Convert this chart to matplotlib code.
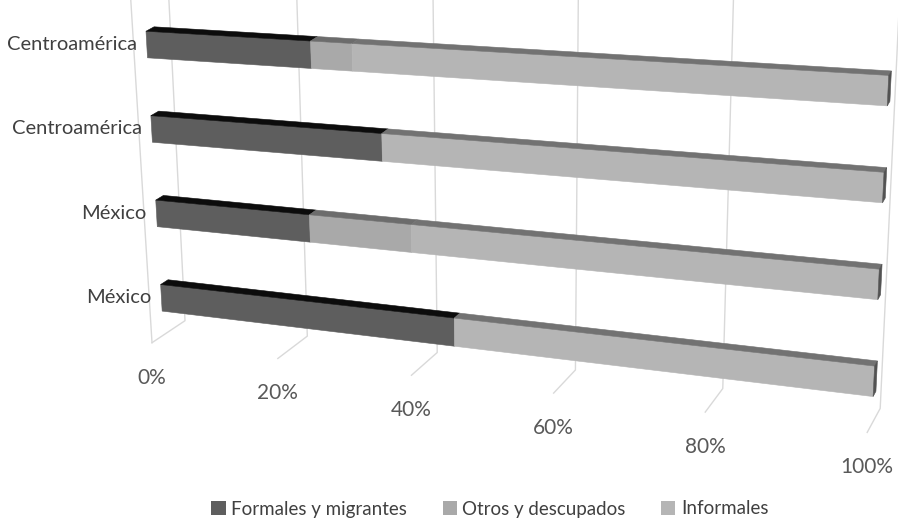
import matplotlib.pyplot as plt
import numpy as np
from matplotlib.patches import Polygon, Patch

# categories from bottom to top, shares in %
categories = ['México', 'México', 'Centroamérica', 'Centroamérica']
formales = [45, 24, 35, 25]
otros = [0, 15, 0, 6]
informales = [55, 61, 65, 69]
series_names = ['Formales y migrantes', 'Otros y descupados', 'Informales']
ticks = [0, 20, 40, 60, 80, 100]

front_colors = ['#5e5e5e', '#a9a9a9', '#b5b5b5']
top_colors = ['#0c0c0c', '#6c6c6c', '#727272']
end_color = '#525252'
grid_color = '#d9d9d9'

# corners of the 3d box in pixels, indexed [depth][height][value]
box = np.array([
    [[(152.0, 342.7), (867.2, 432.4)], [(131.4, 10.0), (886.1, 50.0)]],
    [[(185.0, 320.7), (880.2, 408.4)], [(168.4, -10.0), (898.1, 30.0)]],
])
persp = -0.146  # foreshortening along the value axis


def proj(x, y, z):
    u = (1 + persp) * x / (1 + persp * x)
    e = box[:, :, 0] * (1 - u) + box[:, :, 1] * u
    f = e[:, 0] * (1 - y) + e[:, 1] * y
    return f[0] * (1 - z) + f[1] * z


plt.rcParams['font.family'] = ['Lato', 'DejaVu Sans']

fig = plt.figure(figsize=(8.98, 5.25), dpi=100)
ax = fig.add_axes([0, 0, 1, 1])
ax.set_xlim(0, 898)
ax.set_ylim(525, 0)
ax.axis('off')

# walls and floor grid
wall_top = 1.15
for t in ticks:
    v = t / 100
    pts = np.array([proj(v, wall_top, 1), proj(v, 0, 1), proj(v, 0, 0)])
    ax.plot(pts[:, 0], pts[:, 1], color=grid_color, lw=1, zorder=1)
    lx, ly = proj(v, 0, 0)
    ax.text(lx, ly + 35, '%d%%' % t, ha='center', va='center',
            fontsize=15, color='#595959')
edge = np.array([proj(0, 0, 0), proj(0, wall_top, 0)])
ax.plot(edge[:, 0], edge[:, 1], color=grid_color, lw=1, zorder=1)

# bars
half = 0.04
zf, zb = 0.35, 0.57
series = [formales, otros, informales]
for i, name in enumerate(categories):
    yc = 0.112 + 0.2543 * i
    y0, y1 = yc - half, yc + half
    start = 0.0
    for k, vals in enumerate(series):
        a = start
        b = start + vals[i] / 100
        start = b
        if vals[i] == 0:
            continue
        front = [proj(a, y0, zf), proj(b, y0, zf), proj(b, y1, zf), proj(a, y1, zf)]
        top = [proj(a, y1, zf), proj(b, y1, zf), proj(b, y1, zb), proj(a, y1, zb)]
        ax.add_patch(Polygon(front, closed=True, fc=front_colors[k],
                             ec=front_colors[k], lw=0.4, zorder=3))
        ax.add_patch(Polygon(top, closed=True, fc=top_colors[k],
                             ec=top_colors[k], lw=0.4, zorder=3))
    end = [proj(start, y0, zf), proj(start, y0, zb), proj(start, y1, zb), proj(start, y1, zf)]
    ax.add_patch(Polygon(end, closed=True, fc=end_color, ec=end_color, lw=0.4, zorder=3))
    px, py = proj(0, yc, zf)
    ax.text(px - 10, py, name, ha='right', va='center', fontsize=14.5, color='#404040')

handles = [Patch(facecolor=c, edgecolor='none') for c in front_colors]
fig.legend(handles, series_names, loc='center', bbox_to_anchor=(490 / 898, 1 - 509 / 525),
           ncol=3, frameon=False, fontsize=13.5, handlelength=0.75, handleheight=0.75,
           handletextpad=0.3, columnspacing=1.9, labelcolor='#404040')

fig.savefig('out.png', dpi=100)
